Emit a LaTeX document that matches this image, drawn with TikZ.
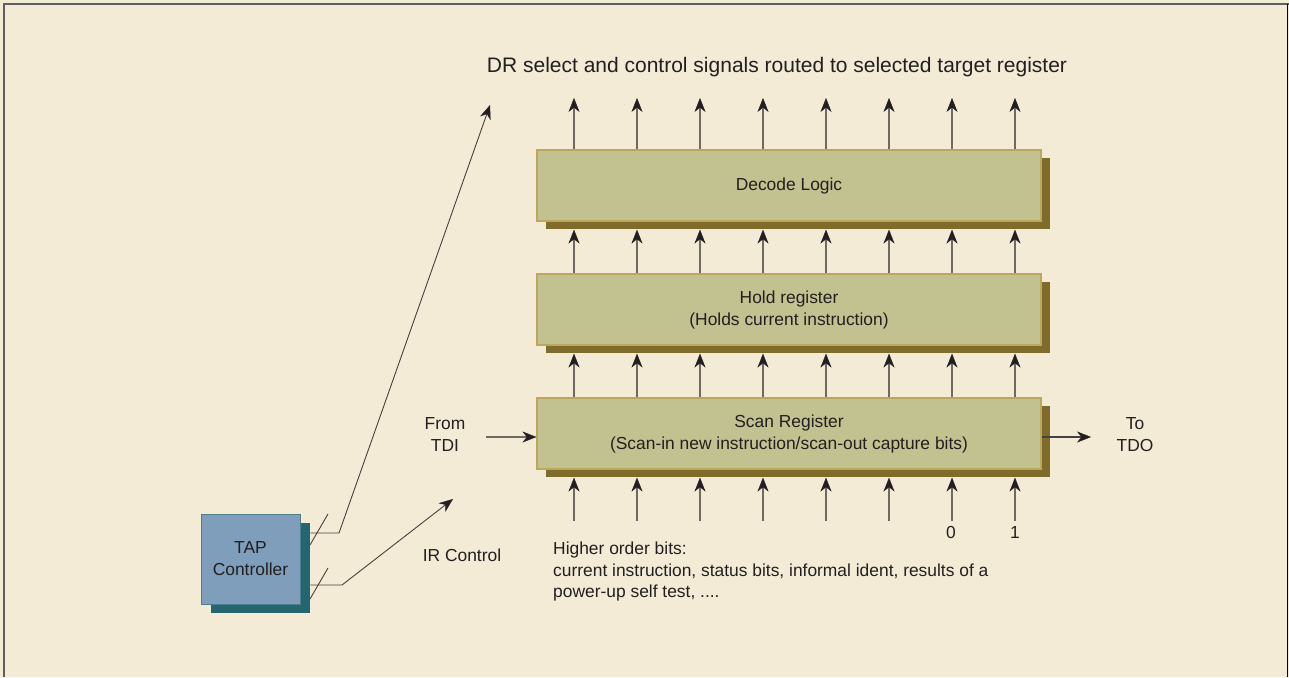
\documentclass[tikz,border=0pt]{standalone}
\usepackage{fontspec}
\setmainfont{Liberation Sans}
\usetikzlibrary{arrows.meta,shadows,calc}
\definecolor{paper}{HTML}{F3EBD6}
\definecolor{regfill}{HTML}{C2C190}
\definecolor{regedge}{HTML}{BCA75E}
\definecolor{regshadow}{HTML}{7F6B2A}
\definecolor{tapfill}{HTML}{7E9EBB}
\definecolor{tapedge}{HTML}{4E7F8C}
\definecolor{tapshadow}{HTML}{236670}
\definecolor{wire}{HTML}{6E6A62}
\definecolor{ink}{HTML}{231F20}
\tikzset{
  txt/.style={font=\fontsize{17.4}{22}\selectfont},
  regbox/.style={draw=regedge, line width=1.2pt, fill=regfill,
    minimum width=504pt, minimum height=71pt, inner sep=0pt, align=center,
    txt, text=ink,
    drop shadow={shadow xshift=9pt, shadow yshift=-8pt, opacity=1, fill=regshadow}},
  tapbox/.style={draw=tapedge, line width=0.8pt, fill=tapfill,
    minimum width=99pt, minimum height=90pt, inner sep=0pt, align=center,
    txt, text=ink,
    drop shadow={shadow xshift=10pt, shadow yshift=-9pt, opacity=1, fill=tapshadow}},
  tip/.style={-{Stealth[length=14pt,width=11pt,inset=4.5pt,fill=ink,color=ink,line width=0.4pt]}},
  sig/.style={draw=wire, line width=1.1pt, tip},
  ctl/.style={draw=ink!85, line width=0.9pt},
  ctlarrow/.style={ctl, tip},
  lbl/.style={text=ink, txt, inner sep=0pt},
}
\begin{document}
\begin{tikzpicture}[x=1pt, y=-1pt]
  % page and frame
  \fill[paper] (0,0) rectangle (1289,677);
  \useasboundingbox (0,0) rectangle (1289,677);
  \draw[gray!75!black, line width=2pt] (3.5,677) -- (3.5,4) -- (1289,4);
  \draw[black, line width=1.6pt] (1287.5,4) -- (1287.5,677);

  % title
  \node[lbl, font=\fontsize{21}{24}\selectfont] (title) at (777,67)
    {DR select and control signals routed to selected target register};

  % registers
  \node[regbox] (decode) at (789,185.5) {Decode Logic};
  \node[regbox] (hold) at (789,309.5) {Hold register\\(Holds current instruction)};
  \node[regbox] (scan) at (789,433.5) {Scan Register\\(Scan-in new instruction/scan-out capture bits)};

  % signal columns
  \foreach \i/\x in {1/574,2/637,3/700,4/763,5/826,6/889,7/952,8/1015}{
    \coordinate (top\i) at (\x,98);
    \coordinate (bot\i) at (\x,521);
    \draw[sig] (top\i |- decode.north) -- (top\i);
    \draw[sig] (top\i |- hold.north) -- ([yshift=-8pt]top\i |- decode.south);
    \draw[sig] (top\i |- scan.north) -- ([yshift=-8pt]top\i |- hold.south);
    \draw[sig] (bot\i) -- ([yshift=-8pt]bot\i |- scan.south);
  }
  \node[lbl] (bit0) at (951,533) {0};
  \node[lbl] (bit1) at (1015,533) {1};

  % serial in / out
  \node[lbl, align=center] (tdi) at (445,435) {From\\TDI};
  \coordinate (tdiin) at (486,437);
  \draw[sig] (tdiin) -- (tdiin -| scan.west);
  \node[lbl, align=center] (tdo) at (1135,435) {To\\TDO};
  \coordinate (tdoout) at (1091,437);
  \draw[sig, draw=ink!85] (tdoout -| scan.east) -- (tdoout);

  % TAP controller
  \node[tapbox] (tap) at (250.5,559) {TAP\\Controller};
  \coordinate (dr) at (490,105);
  \coordinate (ir) at (453,499);
  \draw[ctlarrow] ([xshift=10pt]tap.east |- 0,533) -- (339,533) -- (dr);
  \draw[ctlarrow] ([xshift=10pt]tap.east |- 0,585) -- (342,585) -- (ir);
  \draw[ctl] (310,545) -- (328,514);
  \draw[ctl] (310,599) -- (328,568);
  \node[lbl] (irlbl) at (462,555) {IR Control};

  % capture bits note
  \node[lbl, anchor=north west, align=left, font=\fontsize{17.4}{21.5}\selectfont] (note) at (553,542)
    {Higher order bits:\\current instruction, status bits, informal ident, results of a\\power-up self test, ....};
\end{tikzpicture}
\end{document}
